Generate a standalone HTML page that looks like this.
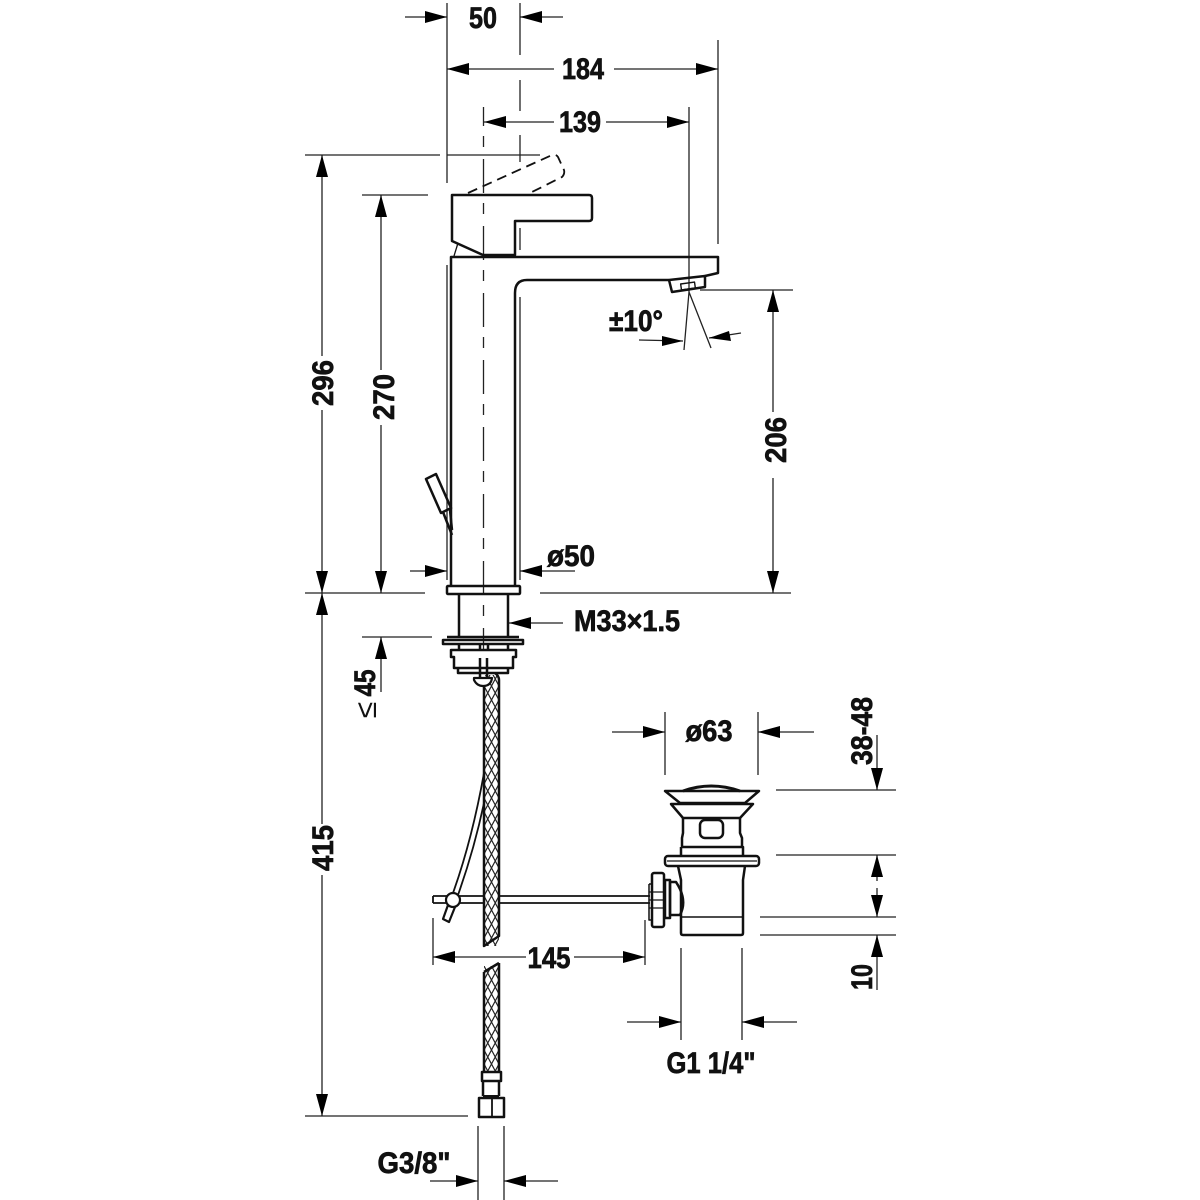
<!DOCTYPE html>
<html><head><meta charset="utf-8"><style>
html,body{margin:0;padding:0;background:#fff}
svg{display:block}
text{font-family:"Liberation Sans",sans-serif;font-weight:bold;fill:#111;font-size:30px;text-anchor:middle;stroke:#111;stroke-width:.7px}
.t{stroke:#222;stroke-width:1.3;fill:none}
.b{stroke:#111;stroke-width:2.5;fill:none;stroke-linejoin:round}
.m{stroke:#111;stroke-width:1.8;fill:none}
.w{stroke:#111;stroke-width:2.2;fill:#fff;stroke-linejoin:round}
.a{fill:#000;stroke:none}
</style></head><body>
<svg width="1200" height="1200" viewBox="0 0 1200 1200" xmlns="http://www.w3.org/2000/svg">
<defs>
<pattern id="h" width="7.5" height="14" patternUnits="userSpaceOnUse" patternTransform="translate(484 0)">
<path d="M0 0L7.5 14M7.5 0L0 14" stroke="#222" stroke-width="1.2" fill="none"/>
</pattern>
</defs>

<!-- extension lines -->
<g class="t">
<path d="M447 3V183M447 265V580"/>
<path d="M520 3V55M520 80V111M520 135V162M520 228V250M520 297V580"/>
<path d="M483.5 92V650" stroke-dasharray="34 10 11 12"/>
<path d="M689 107V292"/>
<path d="M718 40V244"/>
<path d="M305 155H440M447 155H540"/>
<path d="M362 195H428"/>
<path d="M305 593H425M540 593H791"/>
<path d="M700 290H793"/>
<path d="M362 637H432"/>
<path d="M305 1116H468"/>
<path d="M665 712V775M758 712V775"/>
<path d="M776 790H896M776 855H896M760 917H896M760 935H896"/>
<path d="M433 918V965M645 920V965"/>
<path d="M681 948V1040M742 948V1040"/>
<path d="M478 1126V1200M504 1126V1200"/>
<path d="M689 292L684 350M689 292L711 348"/>
</g>
<rect x="478" y="92" width="12" height="15" fill="#fff"/>

<!-- dimension lines -->
<g class="t">
<path d="M405 17H447M520 17H563"/>
<path d="M447 69H554M614 69H718"/>
<path d="M484 122H554M606 122H689"/>
<path d="M322 155V356M322 410V593"/>
<path d="M381 195V370M381 425V593"/>
<path d="M773 290V412M773 478V593"/>
<path d="M322 593V824M322 875V1116"/>
<path d="M410 571H447M520 571H575"/>
<path d="M509 623H563"/>
<path d="M381 637V692"/>
<path d="M612 732H665M758 732H814"/>
<path d="M877 735V790"/>
<path d="M877 855V881M877 888V917"/>
<path d="M877 935V990"/>
<path d="M433 957H526M574 957H645"/>
<path d="M627 1022H681M742 1022H797"/>
<path d="M430 1181H478M504 1181H558"/>
<path d="M639 340L683 341M709 338L741 333"/>
</g>

<!-- arrowheads -->
<g class="a">
<path d="M447 17L425 11V23Z"/><path d="M520 17L542 11V23Z"/>
<path d="M447 69L469 63V75Z"/><path d="M718 69L696 63V75Z"/>
<path d="M484 122L506 116V128Z"/><path d="M689 122L667 116V128Z"/>
<path d="M322 155L316 177H328Z"/><path d="M322 593L316 571H328Z"/>
<path d="M381 195L375 217H387Z"/><path d="M381 593L375 571H387Z"/>
<path d="M773 290L767 312H779Z"/><path d="M773 593L767 571H779Z"/>
<path d="M322 593L316 615H328Z"/><path d="M322 1116L316 1094H328Z"/>
<path d="M447 571L425 565V577Z"/><path d="M520 571L542 565V577Z"/>
<path d="M509 623L531 617V629Z"/>
<path d="M381 637L375 659H387Z"/>
<path d="M665 732L643 726V738Z"/><path d="M758 732L780 726V738Z"/>
<path d="M877 790L871 768H883Z"/>
<path d="M877 855L871 877H883Z"/><path d="M877 917L871 895H883Z"/>
<path d="M877 935L871 957H883Z"/>
<path d="M433 957L455 951V963Z"/><path d="M645 957L623 951V963Z"/>
<path d="M681 1022L659 1016V1028Z"/><path d="M742 1022L764 1016V1028Z"/>
<path d="M478 1181L456 1175V1187Z"/><path d="M504 1181L526 1175V1187Z"/>
<path d="M683 341L662 336V346Z"/><path d="M709 338L729 331L731 341Z"/>
</g>

<!-- dashed lever -->
<path d="M468 193L552 155Q556 154 558 157L564 170Q565 174 562 177L530 193" stroke="#111" stroke-width="1.8" fill="none" stroke-dasharray="10 6"/>

<!-- faucet -->
<g class="b">
<path d="M452 195H589Q592 195 592 198V218Q592 221 589 221H515V255H483L452 241Z"/>
<path d="M458 243L454 256" stroke-width="1.3"/>
<path d="M451 585V257H718V273L705 276"/>
<path d="M515 585V293Q515 280 527 280H669"/>
<path d="M669 280L672 292L705 287V276L669 280"/>
<rect x="681" y="283" width="14" height="6" stroke-width="1.4" transform="rotate(-8 688 286)"/>
<rect x="447" y="586" width="73" height="8" rx="1"/>
<path d="M459 594V637M508 594V637"/>
<rect x="443" y="640" width="80" height="4"/>
<path d="M447 637H519"/>
<path d="M459 644V650M508 644V650M480 644V650M488 644V650"/>
<path d="M451 650H516V657H513V668H454V657H451Z"/>
<path d="M458 668V673H508V668"/>
<path d="M426 479L436 474L451 508L441 513Z"/>
<path d="M443 512L452 535M450 510L452 530"/>
</g>

<!-- hose -->
<rect x="484" y="675" width="15" height="271" fill="url(#h)"/>
<path d="M484 686V946L499 936V680Q499 676 495 673" class="b"/>
<rect x="484" y="966" width="15" height="106" fill="url(#h)"/>
<path d="M484 972V1072M499 963V1072M499 963L484 972" class="b"/>
<path d="M480 658V678M487 658V678" class="b"/>
<path d="M474 678H492Q491 686 483 686Q477 686 474 680Z" class="w"/>
<rect x="482" y="1072" width="19" height="9" class="b"/>
<path d="M483 1081V1096M499 1081V1096" class="b"/>
<rect x="483" y="1095" width="16" height="3" fill="#111"/>
<rect x="479" y="1098" width="25" height="19" class="b"/>
<path d="M492 1098V1117" class="m"/>

<!-- lift rod -->
<path d="M433 896H484M433 903H484M433 896V903M500 896H650M500 903H650" class="m"/>
<path d="M484 773Q472 840 453 893M484 803Q474 850 458 895" class="m"/>
<path d="M448 905L443 919L449 922L455 907" class="w" stroke-width="1.7"/>
<circle cx="453" cy="900" r="7" class="w"/>

<!-- drain -->
<g class="b">
<path d="M683 791Q711 781 740 791" stroke-width="3"/>
<path d="M665 791H759L745 803H680Z"/>
<path d="M671 804H753L740 818H683Z"/>
<path d="M683 818V833L682 838V847M740 818V833L742 838V847"/>
<rect x="700" y="820" width="23" height="18" rx="5"/>
<path d="M681 847H743V856M681 847V856"/>
<rect x="665" y="856" width="94" height="10" rx="3"/>
<path d="M667 861H757" stroke-width="1.3"/>
<path d="M678 866L681 880V933Q681 935 683 935H741Q743 935 743 933V880L745 866"/>
<path d="M681 917H743" stroke-width="1.5"/>
<path d="M670 882H676Q688 900 680 915H670V882Z"/>
<path d="M665 880H670V918H665Z"/>
<rect x="652" y="873" width="12" height="54" rx="2"/>
<path d="M649 884H652M649 884V920H652" stroke-width="1.5"/>
<path d="M649 892H664M649 900H664M649 908H664" stroke-width="1.3"/>
</g>

<!-- labels -->
<text x="483" y="28" textLength="28" lengthAdjust="spacingAndGlyphs">50</text>
<text x="583" y="79" textLength="42" lengthAdjust="spacingAndGlyphs">184</text>
<text x="580" y="132" textLength="42" lengthAdjust="spacingAndGlyphs">139</text>
<text transform="translate(333 383) rotate(-90)" textLength="46" lengthAdjust="spacingAndGlyphs">296</text>
<text transform="translate(394 397) rotate(-90)" textLength="46" lengthAdjust="spacingAndGlyphs">270</text>
<text transform="translate(786 440) rotate(-90)" textLength="46" lengthAdjust="spacingAndGlyphs">206</text>
<text transform="translate(333 848) rotate(-90)" textLength="46" lengthAdjust="spacingAndGlyphs">415</text>
<text x="636" y="331" textLength="54" lengthAdjust="spacingAndGlyphs">±10°</text>
<text x="571" y="566" textLength="48" lengthAdjust="spacingAndGlyphs">ø50</text>
<text x="627" y="631" textLength="106" lengthAdjust="spacingAndGlyphs">M33×1.5</text>
<text transform="translate(375 683) rotate(-90)" textLength="27" lengthAdjust="spacingAndGlyphs">45</text>
<text transform="translate(376 710) rotate(-90)" style="font-weight:normal;font-size:30px;stroke:none">≤</text>
<text x="709" y="741" textLength="47" lengthAdjust="spacingAndGlyphs">ø63</text>
<text transform="translate(872 731) rotate(-90)" textLength="68" lengthAdjust="spacingAndGlyphs">38-48</text>
<text transform="translate(872 977) rotate(-90)" textLength="26" lengthAdjust="spacingAndGlyphs">10</text>
<text x="549" y="968" textLength="43" lengthAdjust="spacingAndGlyphs">145</text>
<text x="711" y="1073" textLength="89" lengthAdjust="spacingAndGlyphs">G1 1/4"</text>
<text x="414" y="1173" textLength="73" lengthAdjust="spacingAndGlyphs">G3/8"</text>
</svg>
</body></html>
